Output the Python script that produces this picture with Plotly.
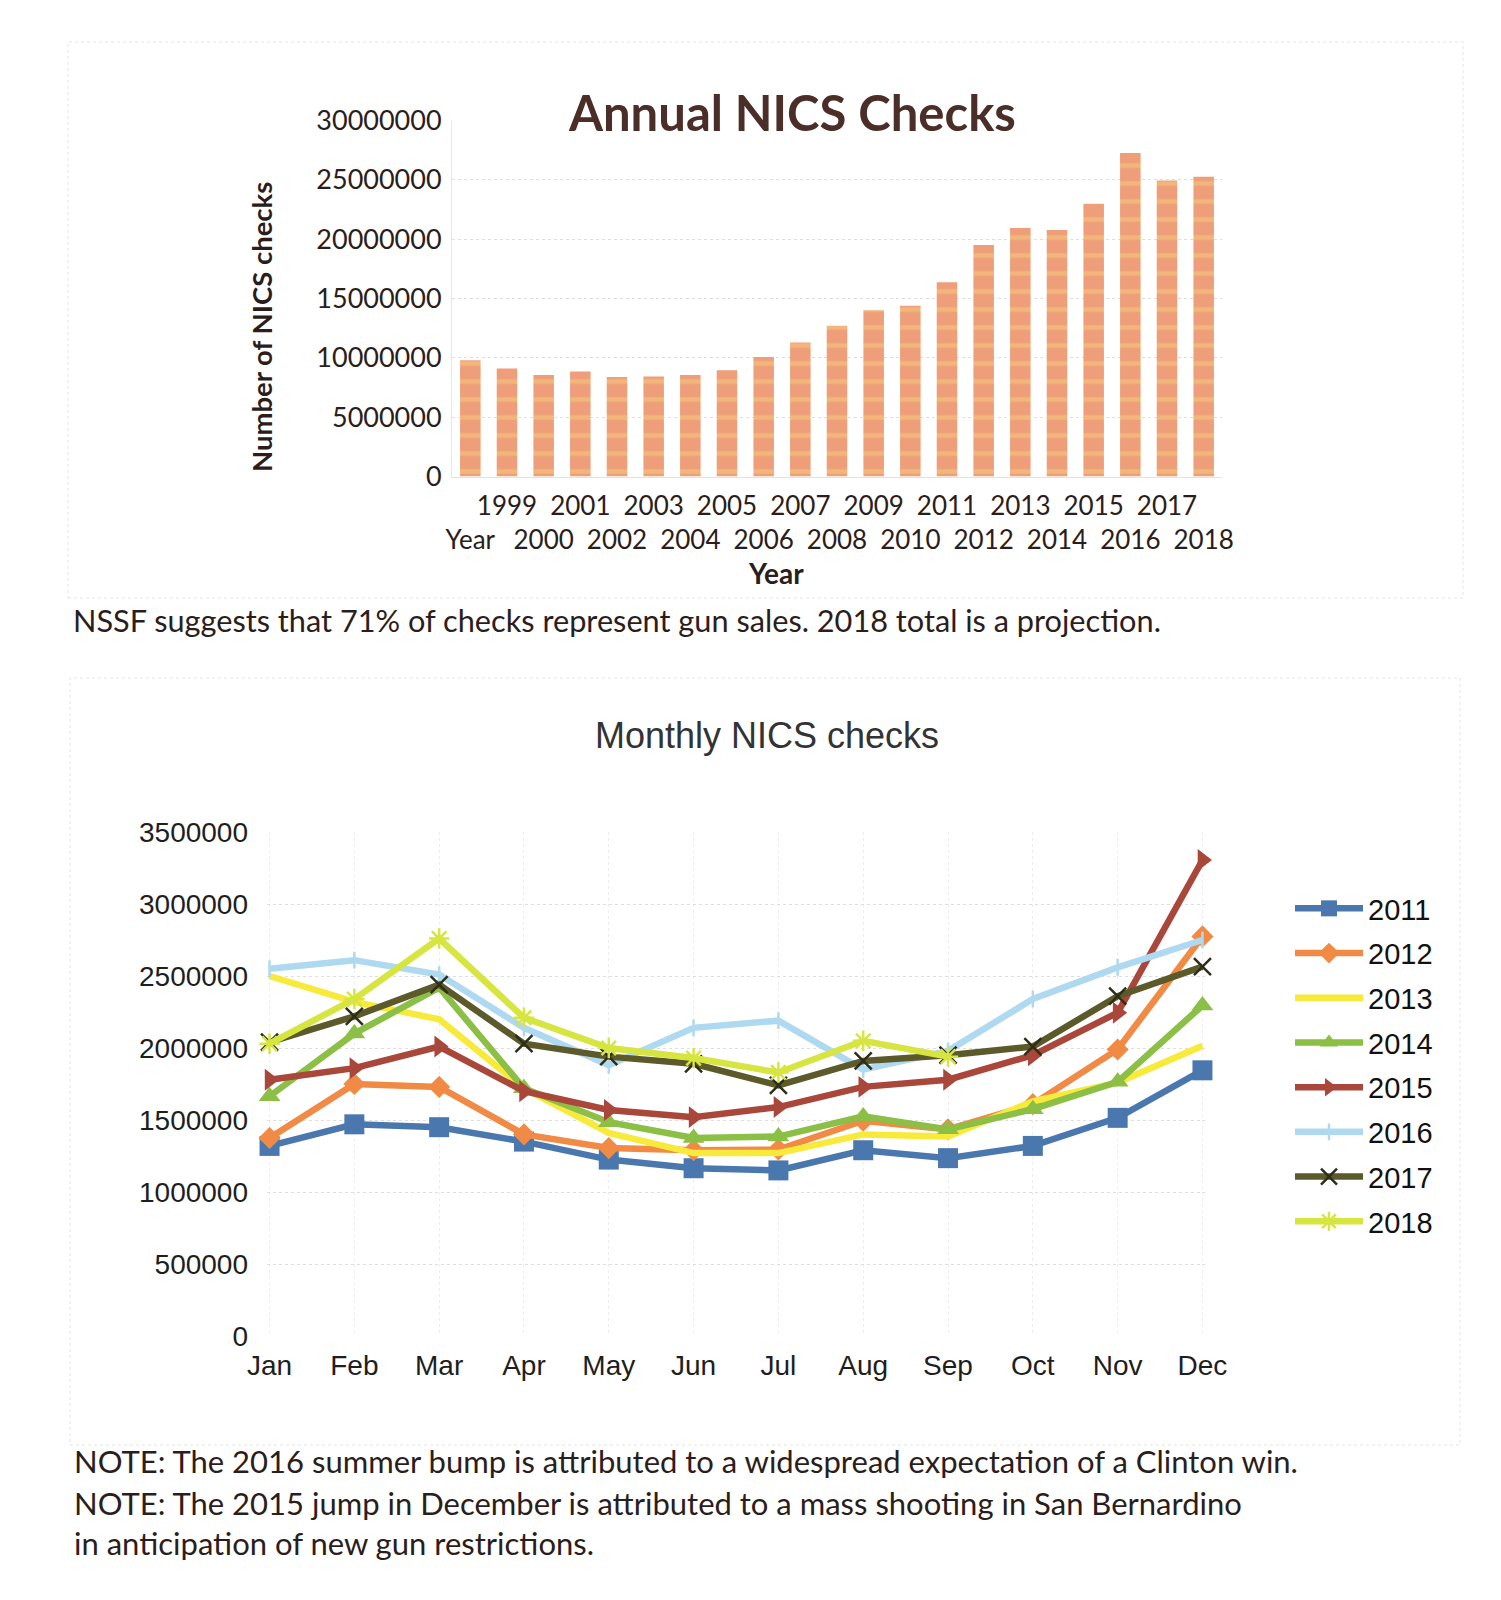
import plotly.graph_objects as go

# ---------------- data ----------------
annual_categories = ["Year"] + [str(y) for y in range(1999, 2019)]
annual_checks = [9800000, 9110000, 8550000, 8850000, 8380000, 8420000, 8560000,
                 8950000, 10080000, 11300000, 12710000, 14020000, 14380000,
                 16370000, 19500000, 20950000, 20780000, 22990000, 27260000,
                 24940000, 25250000]

months = ["Jan", "Feb", "Mar", "Apr", "May", "Jun", "Jul", "Aug", "Sep", "Oct", "Nov", "Dec"]
series_names = ["2011", "2012", "2013", "2014", "2015", "2016", "2017", "2018"]
checks_2011 = [1320000, 1470000, 1450000, 1350000, 1225000, 1165000, 1150000, 1290000, 1235000, 1320000, 1515000, 1845000]
checks_2012 = [1375000, 1750000, 1730000, 1400000, 1305000, 1290000, 1295000, 1495000, 1435000, 1610000, 1990000, 2775000]
checks_2013 = [2500000, 2320000, 2200000, 1720000, 1410000, 1270000, 1270000, 1400000, 1385000, 1630000, 1760000, 2015000]
checks_2014 = [1665000, 2100000, 2420000, 1720000, 1485000, 1375000, 1385000, 1525000, 1435000, 1575000, 1765000, 2295000]
checks_2015 = [1780000, 1860000, 2010000, 1700000, 1570000, 1520000, 1590000, 1730000, 1780000, 1950000, 2245000, 3305000]
checks_2016 = [2550000, 2610000, 2510000, 2140000, 1880000, 2140000, 2190000, 1850000, 1980000, 2340000, 2560000, 2750000]
checks_2017 = [2040000, 2220000, 2440000, 2030000, 1940000, 1890000, 1740000, 1910000, 1950000, 2010000, 2360000, 2565000]
checks_2018 = [2030000, 2340000, 2760000, 2210000, 2000000, 1930000, 1830000, 2050000, 1940000, None, None, None]
monthly_series = [checks_2011, checks_2012, checks_2013, checks_2014,
                  checks_2015, checks_2016, checks_2017, checks_2018]

# ---------------- styles ----------------
W, H = 1501, 1600
OFF = 8  # page body margin
def px(x):
    return (x - OFF) / W
def py(y):
    return 1 - (y - OFF) / H

TXT_UP = "#2b1d1b"
CALIBRI = "Lato"
ARIAL = "Liberation Sans, Arial"

line_colors = ["#4A78AE", "#F08A45", "#F7EA3A", "#8CBF45", "#A9473A", "#AFD9F0", "#5C5A2A", "#D6E540"]
marker_symbols = ["square", "diamond", None, "triangle-up", "triangle-right", "line-ns", "x-thin", "asterisk"]
marker_sizes = [20, 17, 0, 19, 19, 12, 17, 17]

fig = go.Figure()

# ---------------- annual bar chart ----------------
tick_text = [c if i % 2 == 1 else "<br>" + c for i, c in enumerate(annual_categories)]
fig.add_trace(go.Bar(
    x=annual_categories, y=annual_checks, xaxis="x", yaxis="y",
    marker=dict(color="#EE9E78", line=dict(width=0),
                pattern=dict(shape="-", fgcolor="#F6CC7E", bgcolor="#EE9E78",
                             size=18, solidity=0.25)),
    width=0.56, showlegend=False, hoverinfo="x+y"))

# ---------------- monthly line chart ----------------
for name, vals, col, sym, msz in zip(series_names, monthly_series, line_colors,
                                     marker_symbols, marker_sizes):
    if sym is None:
        mode = "lines"
        marker = dict()
    else:
        mode = "lines+markers"
        if sym in ("line-ns", "x-thin", "asterisk"):
            marker = dict(symbol=sym, size=msz, color=col,
                          line=dict(width=2.5, color=col if sym != "x-thin" else "#2e2e18"))
        else:
            marker = dict(symbol=sym, size=msz, color=col, line=dict(width=0))
    fig.add_trace(go.Scatter(
        x=months, y=vals, name=name, mode=mode, xaxis="x2", yaxis="y2",
        line=dict(color=col, width=6.5), marker=marker, legendgroup=name,
        cliponaxis=False, connectgaps=False))

grid_col = "#dedede"
fig.update_layout(
    width=W, height=H, autosize=False,
    margin=dict(l=0, r=0, t=0, b=0, pad=0, autoexpand=False),
    paper_bgcolor="white", plot_bgcolor="rgba(0,0,0,0)",
    showlegend=True,
    xaxis=dict(domain=[px(452), px(1222)], type="category",
               tickvals=annual_categories, ticktext=tick_text, tickangle=0,
               tickfont=dict(family=CALIBRI, size=26, color=TXT_UP),
               showgrid=False, showline=True, linecolor="#e2e2e2", linewidth=1,
               ticks="", ticklabelstandoff=6, fixedrange=True, automargin=False),
    yaxis=dict(domain=[py(476.5), py(120.5)], range=[0, 30000000], dtick=5000000,
               tickformat="d", tickfont=dict(family=CALIBRI, size=27, color=TXT_UP),
               showgrid=True, gridcolor=grid_col, griddash="dot", gridwidth=1,
               showline=True, linecolor="#e8e8e8", zeroline=False, ticks="",
               ticklabelstandoff=4, fixedrange=True, automargin=False),
    xaxis2=dict(domain=[px(267), px(1205)], type="category", range=[-0.03, 11.03],
                tickfont=dict(family=ARIAL, size=28, color="#1e1e1e"), tickangle=0,
                showgrid=True, gridcolor="#eeeeee", griddash="dot",
                showline=False, ticks="", ticklabelstandoff=10, fixedrange=True,
                anchor="y2", automargin=False),
    yaxis2=dict(domain=[py(1336), py(832)], range=[0, 3500000], dtick=500000,
                tickformat="d", tickfont=dict(family=ARIAL, size=28, color="#1e1e1e"),
                showgrid=True, gridcolor=grid_col, griddash="dot", gridwidth=1,
                zeroline=False, showline=False, ticks="", ticklabelstandoff=18,
                fixedrange=True, anchor="x2", automargin=False),
    legend=dict(x=px(1290), y=py(883), xanchor="left", yanchor="top",
                font=dict(family=ARIAL, size=29, color="#111111"),
                itemwidth=68, tracegroupgap=4, bgcolor="rgba(0,0,0,0)",
                borderwidth=0),
)

annotations = [
    dict(text="<b>Annual NICS Checks</b>", x=px(792), y=py(112),
         font=dict(family=CALIBRI, size=49, color="#4a2e27")),
    dict(text="<b>Number of NICS checks</b>", x=px(262), y=py(327), textangle=-90,
         font=dict(family=CALIBRI, size=27.5, color=TXT_UP)),
    dict(text="<b>Year</b>", x=px(776), y=py(573),
         font=dict(family=CALIBRI, size=28, color=TXT_UP)),
    dict(text="NSSF suggests that 71% of checks represent gun sales. 2018 total is a projection.",
         x=px(71), y=py(621), xanchor="left",
         font=dict(family=CALIBRI, size=30.7, color=TXT_UP)),
    dict(text="Monthly NICS checks", x=px(767), y=py(735),
         font=dict(family=ARIAL, size=36, color="#333333")),
    dict(text="NOTE: The 2016 summer bump is attributed to a widespread expectation of a Clinton win.",
         x=px(72), y=py(1461), xanchor="left",
         font=dict(family=CALIBRI, size=31, color=TXT_UP)),
    dict(text="NOTE: The 2015 jump in December is attributed to a mass shooting in San Bernardino",
         x=px(72), y=py(1503), xanchor="left",
         font=dict(family=CALIBRI, size=31, color=TXT_UP)),
    dict(text="in anticipation of new gun restrictions.",
         x=px(72), y=py(1543), xanchor="left",
         font=dict(family=CALIBRI, size=31, color=TXT_UP)),
]
for a in annotations:
    a.setdefault("xanchor", "center")
    a.update(xref="paper", yref="paper", yanchor="middle", showarrow=False)
fig.update_layout(annotations=annotations)

# faint frames from the scanned page
frame = dict(type="rect", xref="paper", yref="paper",
             line=dict(color="#e4e4e4", width=1, dash="dot"), fillcolor="rgba(0,0,0,0)")
fig.add_shape(x0=px(68), x1=px(1463), y0=py(598), y1=py(42), **frame)
fig.add_shape(x0=px(70), x1=px(1460), y0=py(1445), y1=py(678), **frame)

fig.write_html("out.html")
